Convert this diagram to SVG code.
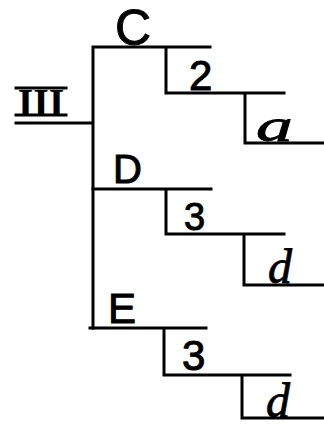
<svg xmlns="http://www.w3.org/2000/svg" width="324" height="427" viewBox="0 0 324 427">
<style>
.ln{stroke:#000;stroke-width:3;fill:none;stroke-linecap:square}
.lb{font-family:"Liberation Sans",Arial,sans-serif;fill:#000;stroke:#000;stroke-width:1}
.sc{font-family:"Liberation Serif","DejaVu Serif",serif;font-style:italic;fill:#000;stroke:#000;stroke-width:0.8}
.rn{font-family:"Liberation Serif","Times New Roman",serif;font-weight:bold;fill:#000}
</style>
<rect width="324" height="427" fill="#fff"/>
<g id="connectors">
<path class="ln" d="M16 123H93M93 47V328M93 47H210M166 47V93H284M245 93V143H324"/>
<path class="ln" d="M93 189H211M166 189V234H284M244 234V285H324"/>
<path class="ln" d="M90 328H206M164 328V375H290M242 375V418H324"/>
</g>
<g id="root">
<text class="rn" x="41" y="116" font-size="40" text-anchor="middle">III</text>
<path class="ln" d="M16 88H66M16 115H66"/>
</g>
<g id="nodeC"><text class="lb" x="115" y="45" font-size="50">C</text></g>
<g id="node2"><text class="lb" x="189" y="90" font-size="42">2</text></g>
<g id="nodeA"><text class="sc" x="256" y="141" font-size="46" transform="translate(256 0) scale(1.6 1) translate(-256 0)">a</text></g>
<g id="nodeD"><text class="lb" x="113" y="183" font-size="40">D</text></g>
<g id="node3a"><text class="lb" x="184" y="230" font-size="38">3</text></g>
<g id="nodeD2"><text class="sc" x="268" y="283" font-size="48">d</text></g>
<g id="nodeE"><text class="lb" x="108" y="323" font-size="42">E</text></g>
<g id="node3b"><text class="lb" x="182" y="370" font-size="42">3</text></g>
<g id="nodeD3"><text class="sc" x="266" y="417" font-size="48">d</text></g>
</svg>
